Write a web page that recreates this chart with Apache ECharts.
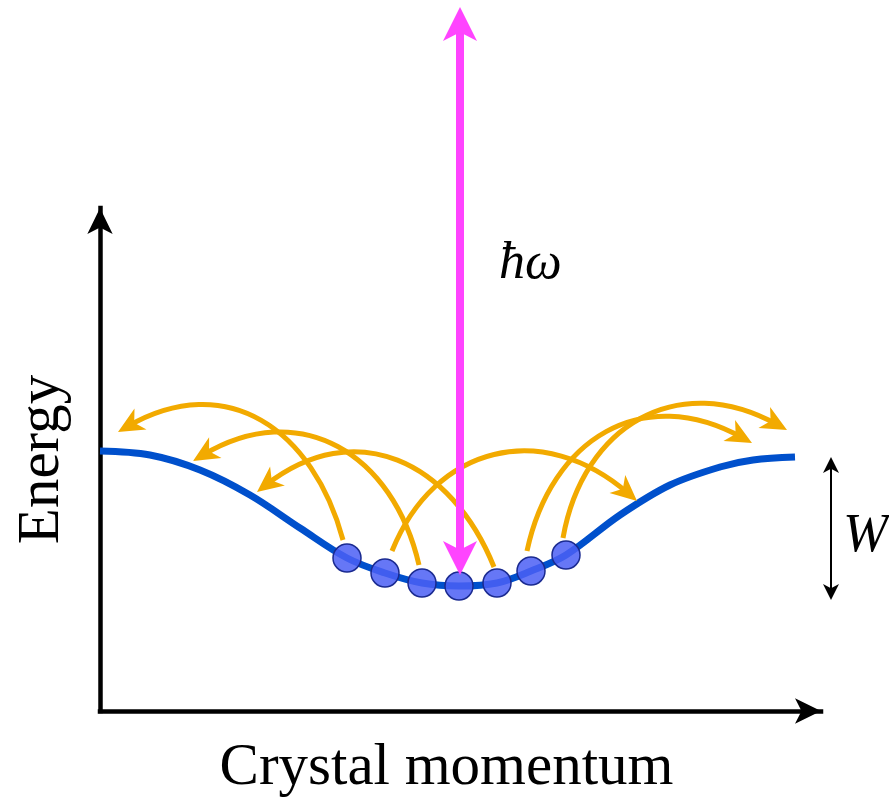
<!DOCTYPE html>
<html>
<head>
<meta charset="utf-8">
<script src="https://cdn.jsdelivr.net/npm/echarts@6/dist/echarts.min.js"></script>
<style>html,body{margin:0;padding:0;background:#fff}#c{width:889px;height:798px}</style>
</head>
<body>
<div id="c"></div>
<script>
// Schematic units: x = crystal momentum (arb.), y = energy (arb.)
const bandX = [0, 50, 100, 150, 200, 247, 285, 322, 359, 397, 431, 466, 520, 570, 620, 653, 695];
const bandY = [260, 256, 241, 216, 183, 153, 138, 128, 125, 128, 140, 156, 196, 226, 244, 251, 254];

const dotX = [247, 285, 322, 359, 397, 431, 466];
const dotY = [153, 138, 128, 125, 128, 140, 156];

// scattering arcs: start (top of a dot) -> arrow tip, leaving/arriving directions (deg), looseness
const arcFromX = [243, 319, 394, 292, 427, 463];
const arcFromY = [171, 146, 144, 160, 160, 173];
const arcToX   = [18, 93, 157, 537, 652, 687];
const arcToY   = [279, 250, 219, 210, 268, 281];
const arcOut   = [105, 103, 112, 68, 78, 80];
const arcIn    = [210, 211, 218, -41, -29, -29];
const arcLoose = [1.2, 1.2, 1.2, 1.2, 1.2, 1.2];

// photon (hbar omega) double arrow
const photonX = [360, 360];
const photonY = [687, 153];

// bandwidth W double arrow
const widthX = [731, 731];
const widthY = [246, 119];

const xMax = 721, yMax = 503;

const stealth = 'path://M50,0L100,100L50,74L0,100Z';

const chart = echarts.init(document.getElementById('c'), null, {renderer: 'canvas'});

const arcRows = arcFromX.map((x, i) => [x, arcFromY[i], arcToX[i], arcToY[i], arcOut[i], arcIn[i], arcLoose[i]]);

function renderArc(params, api) {
  const p0 = api.coord([api.value(0), api.value(1)]);
  const tip = api.coord([api.value(2), api.value(3)]);
  const ao = api.value(4) * Math.PI / 180;
  const ai = api.value(5) * Math.PI / 180;
  const k = api.value(6);
  const dO = [Math.cos(ao), -Math.sin(ao)];
  const dI = [Math.cos(ai), -Math.sin(ai)];
  const headL = 26, headW = 24;
  const end = [tip[0] - dI[0] * 11, tip[1] - dI[1] * 11];
  const dist = Math.hypot(end[0] - p0[0], end[1] - p0[1]) * 0.3915 * k;
  const cp1 = [p0[0] + dO[0] * dist, p0[1] + dO[1] * dist];
  const cp2 = [end[0] - dI[0] * dist, end[1] - dI[1] * dist];
  const perp = [-dI[1], dI[0]];
  const back = [tip[0] - dI[0] * headL, tip[1] - dI[1] * headL];
  const notch = [tip[0] - dI[0] * headL * 0.72, tip[1] - dI[1] * headL * 0.72];
  const col = '#f2aa00';
  return {
    type: 'group',
    children: [
      {type: 'bezierCurve',
        shape: {x1: p0[0], y1: p0[1], x2: end[0], y2: end[1], cpx1: cp1[0], cpy1: cp1[1], cpx2: cp2[0], cpy2: cp2[1]},
        style: {stroke: col, lineWidth: 5, fill: 'none'}},
      {type: 'polygon',
        shape: {points: [tip,
          [back[0] + perp[0] * headW / 2, back[1] + perp[1] * headW / 2],
          notch,
          [back[0] - perp[0] * headW / 2, back[1] - perp[1] * headW / 2]]},
        style: {fill: col}}
    ]
  };
}

chart.setOption({
  animation: false,
  backgroundColor: '#ffffff',
  grid: {left: 100, right: 68, top: 208, bottom: 87, outerBoundsMode: 'none', containLabel: false},
  xAxis: {
    type: 'value', min: 0, max: xMax,
    name: 'Crystal momentum', nameLocation: 'middle', nameGap: 28,
    nameTextStyle: {fontFamily: 'Liberation Serif', fontSize: 59, color: '#000', padding: [0, 28, 0, 0]},
    axisLine: {show: true, symbol: ['none', 'arrow'], symbolSize: [19, 26],
      lineStyle: {color: '#000', width: 4.5, cap: 'square'}},
    axisTick: {show: false}, axisLabel: {show: false}, splitLine: {show: false}
  },
  yAxis: {
    type: 'value', min: 0, max: yMax,
    name: 'Energy', nameLocation: 'middle', nameGap: 28, nameRotate: 90,
    nameTextStyle: {fontFamily: 'Liberation Serif', fontSize: 59, color: '#000'},
    axisLine: {show: true, symbol: ['none', 'arrow'], symbolSize: [19, 26],
      lineStyle: {color: '#000', width: 4.5, cap: 'square'}},
    axisTick: {show: false}, axisLabel: {show: false}, splitLine: {show: false}
  },
  series: [
    {
      type: 'line', smooth: 0.35, showSymbol: false, z: 2,
      data: bandX.map((x, i) => [x, bandY[i]]),
      lineStyle: {color: '#0050cc', width: 7}
    },
    {
      type: 'scatter', symbolSize: 28, z: 3,
      data: dotX.map((x, i) => [x, dotY[i]]),
      itemStyle: {color: 'rgba(75,95,245,0.85)', opacity: 1, borderColor: '#1a2a90', borderWidth: 1.5}
    },
    {
      type: 'custom', coordinateSystem: 'cartesian2d', z: 4,
      encode: {x: [0, 2], y: [1, 3]},
      data: arcRows,
      renderItem: renderArc
    },
    {
      type: 'lines', coordinateSystem: 'cartesian2d', clip: false, z: 5,
      symbol: [stealth, stealth], symbolSize: 34,
      lineStyle: {color: '#ff44ff', width: 8, opacity: 1},
      data: [{coords: [[photonX[0], photonY[0]], [photonX[1], photonY[1]]]}]
    },
    {
      type: 'lines', coordinateSystem: 'cartesian2d', clip: false, z: 5,
      symbol: [stealth, stealth], symbolSize: 16,
      lineStyle: {color: '#000', width: 2, opacity: 1},
      data: [{coords: [[widthX[0], widthY[0]], [widthX[1], widthY[1]]]}]
    }
  ],
  graphic: [
    {type: 'text', left: 499, top: 238,
      style: {text: 'ħω', font: 'italic 52px "Liberation Serif"', fill: '#000'}},
    {type: 'text', left: 843, top: 510,
      style: {text: 'W', font: 'italic 54px "Liberation Serif"', fill: '#000'}}
  ]
});
</script>
</body>
</html>
